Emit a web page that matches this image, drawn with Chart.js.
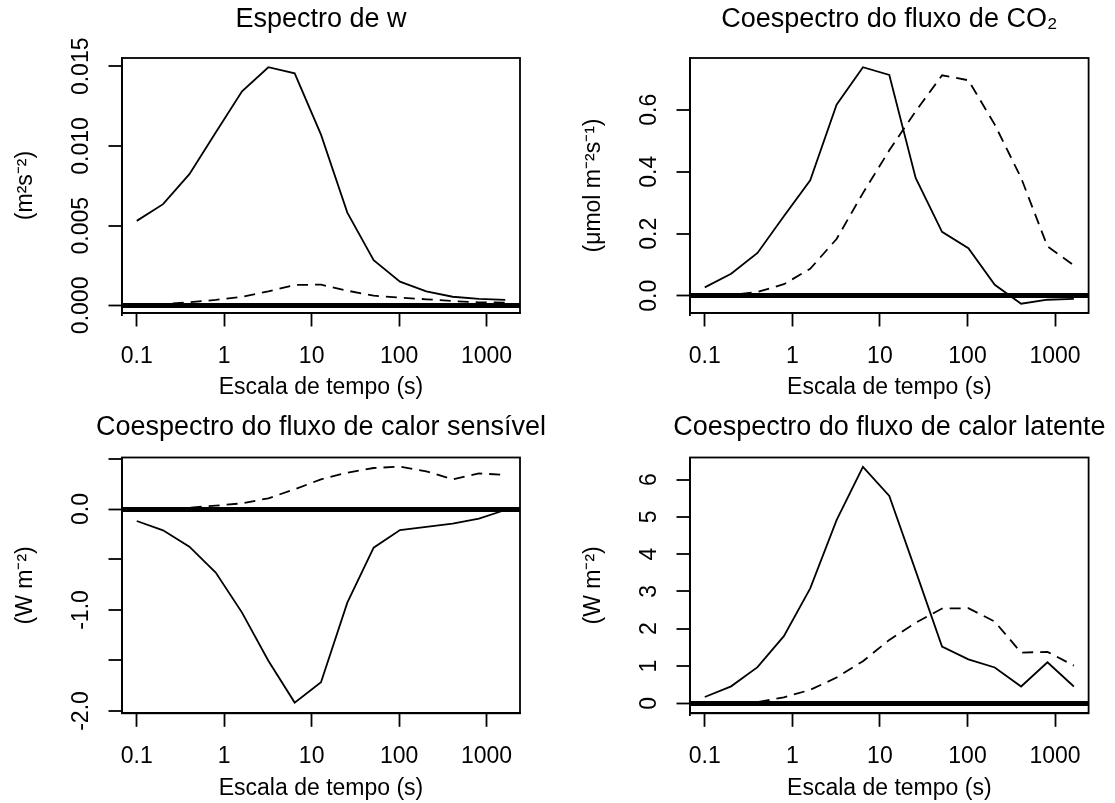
<!DOCTYPE html>
<html lang="pt">
<head>
<meta charset="UTF-8">
<title>Espectro e coespectros por escala de tempo</title>
<script src="https://cdn.jsdelivr.net/npm/chart.js"></script>
<style>
  body{margin:0;background:#fff}
  #wrap{position:relative;width:1115px;height:803px}
  #wrap canvas{position:absolute}
</style>
</head>
<body>
<div id="wrap">
  <canvas id="c1" width="557" height="401" style="left:0;top:0"></canvas>
  <canvas id="c2" width="558" height="401" style="left:557px;top:0"></canvas>
  <canvas id="c3" width="557" height="402" style="left:0;top:401px"></canvas>
  <canvas id="c4" width="558" height="402" style="left:557px;top:401px"></canvas>
</div>
<script>
// escalas de tempo (s)
const scaleTimes = [0.1, 0.2, 0.4, 0.8, 1.6, 3.2, 6.4, 12.8, 25.6, 51.2, 102.4, 204.8, 409.6, 819.2, 1638.4];

const xTicks = [0.1, 1, 10, 100, 1000];
const xTickLabels = ['0.1', '1', '10', '100', '1000'];

// espectro de w
const wSolid  = [0.00530, 0.00635, 0.00823, 0.01085, 0.01343, 0.01494, 0.01456, 0.01071, 0.00582, 0.00283, 0.00149, 0.00088, 0.00054, 0.00040, 0.00034];
const wDashed = [0.00003, 0.00008, 0.00019, 0.00034, 0.00054, 0.00088, 0.00128, 0.00130, 0.00092, 0.00061, 0.00048, 0.00038, 0.00027, 0.00019, 0.00017];
const wTicks = [0, 0.005, 0.010, 0.015];
const wTickLabels = ['0.000', '0.005', '0.010', '0.015'];

// coespectro CO2
const co2Solid  = [0.027, 0.071, 0.138, 0.256, 0.372, 0.616, 0.737, 0.712, 0.380, 0.206, 0.153, 0.035, -0.026, -0.013, -0.010];
const co2Dashed = [0.000, 0.002, 0.012, 0.037, 0.087, 0.183, 0.331, 0.469, 0.595, 0.711, 0.695, 0.552, 0.380, 0.159, 0.098];
const co2Ticks = [0, 0.2, 0.4, 0.6];
const co2TickLabels = ['0.0', '0.2', '0.4', '0.6'];

// coespectro calor sensivel
const hSolid  = [-0.119, -0.211, -0.373, -0.630, -1.026, -1.502, -1.917, -1.716, -0.927, -0.383, -0.208, -0.178, -0.145, -0.096, -0.010];
const hDashed = [0.000, 0.003, 0.013, 0.033, 0.056, 0.106, 0.195, 0.294, 0.360, 0.406, 0.419, 0.373, 0.294, 0.353, 0.337];
const hTicks = [-2, -1.5, -1, -0.5, 0, 0.5];
const hTickLabels = ['-2.0', '', '-1.0', '', '0.0', ''];

// coespectro calor latente
const leSolid  = [0.17, 0.455, 0.97, 1.80, 3.08, 4.91, 6.34, 5.56, 3.55, 1.52, 1.18, 0.96, 0.45, 1.10, 0.45];
const leDashed = [0.00, 0.01, 0.03, 0.16, 0.36, 0.69, 1.13, 1.70, 2.16, 2.54, 2.55, 2.19, 1.36, 1.38, 1.01];
const leTicks = [0, 1, 2, 3, 4, 5, 6];
const leTickLabels = ['0', '1', '2', '3', '4', '5', '6'];

const FAMILY = "'Liberation Sans', Arial, Helvetica, sans-serif";
const FONT_SIZE = 23;
const LW = 1.8;
const TICK_LEN = 13.5;
const LABEL_GAP = 40.5;
const X_MIN = 0.06782, X_MAX = 2415.5;

Chart.defaults.font.family = FAMILY;
Chart.defaults.font.size = FONT_SIZE;
Chart.defaults.color = '#000';

const mctx = document.createElement('canvas').getContext('2d');
function widest(labels){
  mctx.font = FONT_SIZE + 'px ' + FAMILY;
  return Math.max(...labels.map(l => mctx.measureText(l).width));
}

/* box round the plot region + title centred on it */
const rFrame = {
  id: 'rFrame',
  afterDatasetsDraw(chart){
    const {ctx, chartArea: a} = chart;
    ctx.save();
    ctx.strokeStyle = '#000';
    ctx.lineWidth = LW;
    ctx.strokeRect(a.left, a.top, a.right - a.left, a.bottom - a.top);
    ctx.restore();
  },
  afterDraw(chart, args, opts){
    const {ctx, chartArea: a} = chart;
    ctx.save();
    ctx.font = '27px ' + FAMILY;
    ctx.fillStyle = '#000';
    ctx.textAlign = 'center';
    ctx.textBaseline = 'middle';
    ctx.fillText(opts.text, (a.left + a.right) / 2, opts.y);
    ctx.restore();
  }
};

function panel(id, p){
  const pts = arr => scaleTimes.map((x, i) => ({x, y: arr[i]}));
  new Chart(document.getElementById(id), {
    type: 'line',
    data: {
      datasets: [
        {data: pts(p.solid), borderColor: '#000', borderWidth: LW, pointRadius: 0, tension: 0, fill: false},
        {data: pts(p.dashed), borderColor: '#000', borderWidth: LW, borderDash: [11, 7], pointRadius: 0, tension: 0, fill: false}
      ]
    },
    options: {
      responsive: false,
      animation: false,
      layout: {padding: {top: p.top, right: p.padRight, left: 0, bottom: 0}},
      plugins: {
        legend: {display: false},
        tooltip: {enabled: false},
        rFrame: {text: p.title, y: p.titleY}
      },
      scales: {
        x: {
          type: 'logarithmic', min: X_MIN, max: X_MAX,
          afterBuildTicks: s => { s.ticks = xTicks.map(v => ({value: v})); },
          afterFit: s => { s.height = p.xHeight; },
          ticks: {autoSkip: false, maxRotation: 0, padding: 16.4, callback: (v, i) => xTickLabels[i]},
          grid: {drawOnChartArea: false, tickLength: TICK_LEN, tickWidth: LW, tickColor: '#000'},
          border: {display: true, color: '#000', width: LW},
          title: {display: true, text: 'Escala de tempo (s)', padding: {top: 0, bottom: p.xTitlePad}}
        },
        y: {
          type: 'linear', min: p.yMin, max: p.yMax,
          afterBuildTicks: s => { s.ticks = p.yTicks.map(v => ({value: v})); },
          afterFit: s => { s.width = p.boxLeft; },
          ticks: {
            autoSkip: false, minRotation: 90, maxRotation: 90, crossAlign: 'center',
            padding: LABEL_GAP - TICK_LEN - widest(p.yTickLabels) / 2,
            callback: (v, i) => p.yTickLabels[i]
          },
          grid: {
            drawOnChartArea: true,
            color: c => (c.tick && c.tick.value === 0) ? '#000' : 'rgba(0,0,0,0)',
            lineWidth: c => (c.tick && c.tick.value === 0) ? 5 : 0,
            tickLength: TICK_LEN, tickWidth: LW, tickColor: '#000'
          },
          border: {display: true, color: '#000', width: LW},
          title: {display: true, text: p.yTitle, padding: {top: p.yTitlePad, bottom: 0}}
        }
      }
    },
    plugins: [rFrame]
  });
}

panel('c1', {
  title: 'Espectro de w', titleY: 19.2,
  yTitle: '(m²s⁻²)', yTitlePad: 12.2,
  solid: wSolid, dashed: wDashed,
  yMin: -0.00048, yMax: 0.01552, yTicks: wTicks, yTickLabels: wTickLabels,
  boxLeft: 122, padRight: 37, top: 58, xHeight: 88, xTitlePad: 0
});
panel('c2', {
  title: 'Coespectro do fluxo de CO₂', titleY: 19.2,
  yTitle: '(μmol m⁻²s⁻¹)', yTitlePad: 23.2,
  solid: co2Solid, dashed: co2Dashed,
  yMin: -0.0558, yMax: 0.7668, yTicks: co2Ticks, yTickLabels: co2TickLabels,
  boxLeft: 133, padRight: 26.4, top: 58, xHeight: 88, xTitlePad: 0
});
panel('c3', {
  title: 'Coespectro do fluxo de calor sensível', titleY: 26.2,
  yTitle: '(W m⁻²)', yTitlePad: 12.2,
  solid: hSolid, dashed: hDashed,
  yMin: -2.023, yMax: 0.51, yTicks: hTicks, yTickLabels: hTickLabels,
  boxLeft: 122, padRight: 37, top: 56.5, xHeight: 89.7, xTitlePad: 0.6
});
panel('c4', {
  title: 'Coespectro do fluxo de calor latente', titleY: 26.2,
  yTitle: '(W m⁻²)', yTitlePad: 23.2,
  solid: leSolid, dashed: leDashed,
  yMin: -0.268, yMax: 6.59, yTicks: leTicks, yTickLabels: leTickLabels,
  boxLeft: 133, padRight: 26.4, top: 56.5, xHeight: 89.7, xTitlePad: 0.6
});
</script>
</body>
</html>
